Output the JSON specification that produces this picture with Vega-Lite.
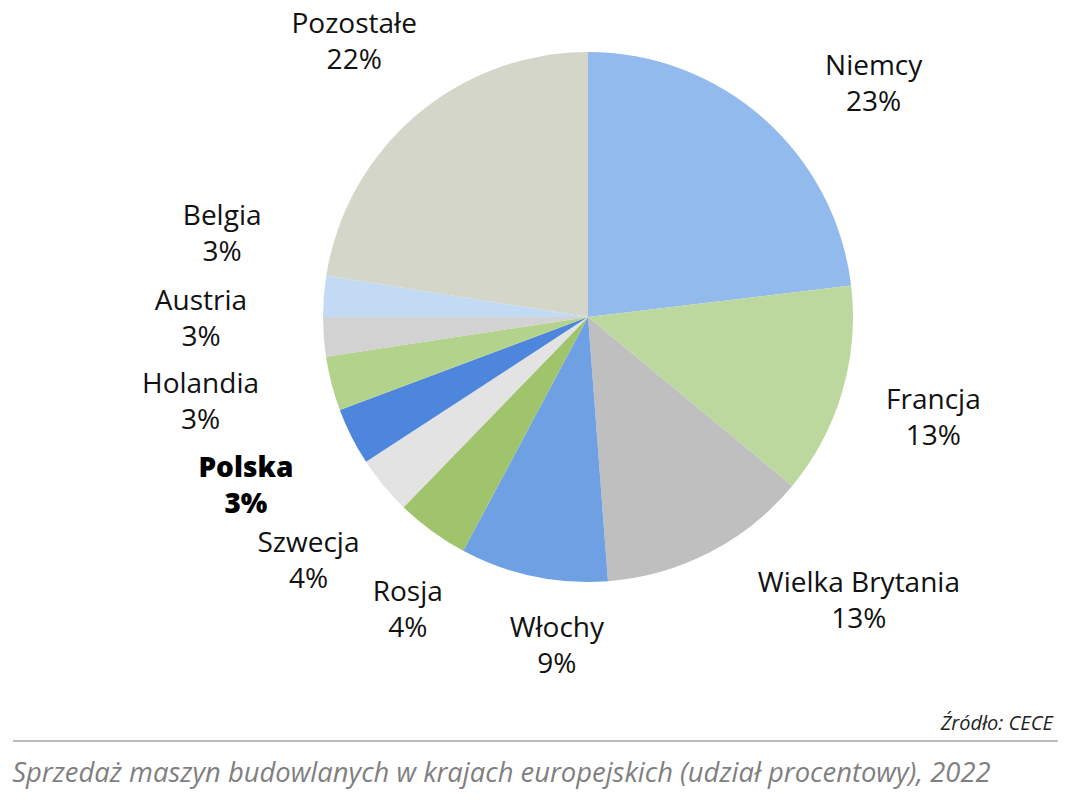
{
  "$schema": "https://vega.github.io/schema/vega-lite/v6.json",
  "background": "white",
  "padding": {"left": 12, "right": 12, "top": 0, "bottom": 4},
  "config": {"view": {"stroke": null}, "font": "Open Sans", "text": {"fontSize": 28, "lineHeight": 36, "lineBreak": "\n", "align": "center", "baseline": "middle", "dy": -18, "color": "#111111"}},
  "datasets": {
    "udzialy": [
      {"nr": 1, "kraj": "Niemcy", "etykieta": "Niemcy\n23%", "udzial": 23.1},
      {"nr": 2, "kraj": "Francja", "etykieta": "Francja\n13%", "udzial": 12.9},
      {"nr": 3, "kraj": "Wielka Brytania", "etykieta": "Wielka Brytania\n13%", "udzial": 12.8},
      {"nr": 4, "kraj": "Włochy", "etykieta": "Włochy\n9%", "udzial": 9.0},
      {"nr": 5, "kraj": "Rosja", "etykieta": "Rosja\n4%", "udzial": 4.45},
      {"nr": 6, "kraj": "Szwecja", "etykieta": "Szwecja\n4%", "udzial": 3.55},
      {"nr": 7, "kraj": "Polska", "etykieta": "Polska\n3%", "udzial": 3.5},
      {"nr": 8, "kraj": "Holandia", "etykieta": "Holandia\n3%", "udzial": 3.3},
      {"nr": 9, "kraj": "Austria", "etykieta": "Austria\n3%", "udzial": 2.4},
      {"nr": 10, "kraj": "Belgia", "etykieta": "Belgia\n3%", "udzial": 2.5},
      {"nr": 11, "kraj": "Pozostałe", "etykieta": "Pozostałe\n22%", "udzial": 22.5}
    ]
  },
  "title": {
    "text": "Sprzedaż maszyn budowlanych w krajach europejskich (udział procentowy), 2022",
    "orient": "bottom",
    "anchor": "start",
    "fontSize": 27.4,
    "fontStyle": "italic",
    "fontWeight": "normal",
    "color": "#7f7f7f",
    "offset": 18
  },
  "spacing": 35,
  "vconcat": [
    {
      "spacing": 0,
      "hconcat": [
        {
          "width": 105,
          "height": 634,
          "data": {"values": []},
          "mark": "point",
          "encoding": {}
        },
        {
          "width": 940,
          "height": 634,
          "data": {"name": "udzialy"},
          "encoding": {
            "theta": {"field": "udzial", "type": "quantitative", "stack": true},
            "order": {"field": "nr", "type": "quantitative"},
            "detail": {"field": "kraj", "type": "nominal"}
          },
          "layer": [
            {
              "mark": {"type": "arc", "outerRadius": 265},
              "encoding": {
                "color": {
                  "field": "kraj",
                  "type": "nominal",
                  "legend": null,
                  "scale": {
                    "domain": ["Niemcy", "Francja", "Wielka Brytania", "Włochy", "Rosja", "Szwecja", "Polska", "Holandia", "Austria", "Belgia", "Pozostałe"],
                    "range": ["#93BAEC", "#BCD89F", "#BFBFBF", "#6FA0E4", "#A0C46C", "#E3E3E3", "#4E86DD", "#B3D28C", "#D2D2D2", "#C3DAF4", "#D3D6C8"]
                  }
                }
              }
            },
            {
              "mark": {"type": "text", "radius": 360},
              "encoding": {
                "text": {"condition": {"test": "indexof(['Pozostałe', 'Francja'], datum.kraj) < 0", "value": ""}, "field": "etykieta", "type": "nominal"}
              }
            },
            {
              "mark": {"type": "text", "radius": 331, "thetaOffset": -0.113},
              "encoding": {
                "text": {"condition": {"test": "datum.kraj !== 'Włochy'", "value": ""}, "field": "etykieta", "type": "nominal"}
              }
            },
            {
              "mark": {"type": "text", "radius": 345, "thetaOffset": -0.08},
              "encoding": {
                "text": {"condition": {"test": "datum.kraj !== 'Rosja'", "value": ""}, "field": "etykieta", "type": "nominal"}
              }
            },
            {
              "mark": {"type": "text", "radius": 372, "thetaOffset": -0.031, "clip": true},
              "encoding": {
                "text": {"condition": {"test": "datum.kraj !== 'Szwecja'", "value": ""}, "field": "etykieta", "type": "nominal"}
              }
            },
            {
              "mark": {"type": "text", "radius": 368, "thetaOffset": 0.163, "clip": true},
              "encoding": {
                "text": {"condition": {"test": "datum.kraj !== 'Niemcy'", "value": ""}, "field": "etykieta", "type": "nominal"}
              }
            },
            {
              "mark": {"type": "text", "radius": 393, "thetaOffset": -0.283, "clip": true},
              "encoding": {
                "text": {"condition": {"test": "datum.kraj !== 'Wielka Brytania'", "value": ""}, "field": "etykieta", "type": "nominal"}
              }
            },
            {
              "mark": {"type": "text", "radius": 397, "thetaOffset": 0.035, "clip": true},
              "encoding": {
                "text": {"condition": {"test": "datum.kraj !== 'Holandia'", "value": ""}, "field": "etykieta", "type": "nominal"}
              }
            },
            {
              "mark": {"type": "text", "radius": 387, "thetaOffset": 0.068, "clip": true},
              "encoding": {
                "text": {"condition": {"test": "datum.kraj !== 'Austria'", "value": ""}, "field": "etykieta", "type": "nominal"}
              }
            },
            {
              "mark": {"type": "text", "radius": 375, "thetaOffset": 0.143, "clip": true},
              "encoding": {
                "text": {"condition": {"test": "datum.kraj !== 'Belgia'", "value": ""}, "field": "etykieta", "type": "nominal"}
              }
            },
            {
              "mark": {"type": "text", "radius": 382, "thetaOffset": 0.007, "clip": true, "fontWeight": 800, "color": "#000000"},
              "encoding": {
                "text": {"condition": {"test": "datum.kraj !== 'Polska'", "value": ""}, "field": "etykieta", "type": "nominal"}
              }
            }
          ]
        }
      ]
    },
    {
      "width": 1045,
      "height": 1,
      "data": {"values": [{}]},
      "title": {
        "text": "Źródło: CECE",
        "orient": "top",
        "anchor": "end",
        "fontSize": 20,
        "fontStyle": "italic",
        "fontWeight": "normal",
        "color": "#222222",
        "offset": 6,
        "dx": -6
      },
      "mark": {"type": "rule", "color": "#A6A6A6", "strokeWidth": 1.5},
      "encoding": {
        "y": {"datum": 1, "type": "quantitative", "scale": {"domain": [0, 1]}, "axis": null}
      }
    }
  ]
}
